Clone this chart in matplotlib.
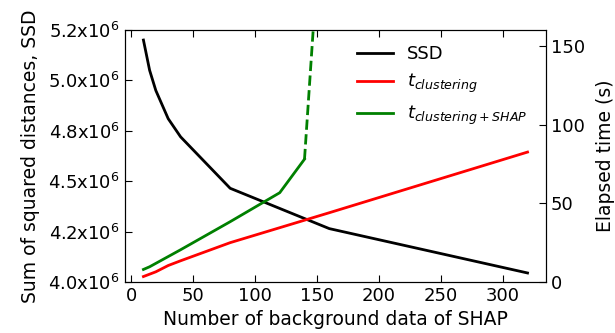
import matplotlib.pyplot as plt
from matplotlib.ticker import FuncFormatter, MultipleLocator

# SSD vs number of background samples
ssd_x = [10, 15, 20, 30, 40, 80, 160, 320]
ssd_y = [5.20e6, 5.05e6, 4.95e6, 4.81e6, 4.72e6, 4.465e6, 4.265e6, 4.045e6]

# elapsed time, clustering only
tc_x = [10, 20, 30, 40, 80, 160, 320]
tc_y = [3.5, 6.5, 10.5, 13.5, 25.0, 44.0, 82.5]

# elapsed time, clustering + SHAP (measured part)
ts_x = [10, 15, 40, 80, 120, 140]
ts_y = [8.0, 9.7, 20.5, 38.3, 56.7, 78.0]
# extrapolated part (dashed)
ts_ext_x = [140, 160]
ts_ext_y = [78.0, 312.0]


def main():
    plt.rcParams["font.size"] = 13
    plt.rcParams["xtick.direction"] = "in"
    plt.rcParams["ytick.direction"] = "in"

    fig, ax1 = plt.subplots(figsize=(6.15, 3.33), dpi=100)
    fig.subplots_adjust(left=0.203, right=0.888, top=0.91, bottom=0.153)
    ax2 = ax1.twinx()

    l1, = ax1.plot(ssd_x, ssd_y, color="k", lw=2, label="SSD")
    l2, = ax2.plot(tc_x, tc_y, color="r", lw=2, label="$t_{clustering}$")
    l3, = ax2.plot(ts_x, ts_y, color="g", lw=2, label="$t_{clustering+SHAP}$")
    ax2.plot(ts_ext_x, ts_ext_y, color="g", lw=2, ls="--")

    ax1.set_xlim(-5, 335)
    ax1.set_ylim(4.0e6, 5.25e6)
    ax1.yaxis.set_major_locator(MultipleLocator(0.25e6))
    ax1.yaxis.set_major_formatter(
        FuncFormatter(lambda v, p: "{:.1f}x10$^6$".format(v / 1e6)))
    ax2.set_ylim(0, 160)
    ax2.yaxis.set_major_locator(MultipleLocator(50))

    ax1.tick_params(axis="x", top=True, length=5)
    ax1.tick_params(axis="y", length=5)
    ax2.tick_params(axis="y", length=5)

    ax1.set_xlabel("Number of background data of SHAP", fontsize=13.5)
    ax1.set_ylabel("Sum of squared distances, SSD", fontsize=13.5, labelpad=6)
    ax2.set_ylabel("Elapsed time (s)", fontsize=13.5, labelpad=8)

    ax2.legend(handles=[l1, l2, l3], loc="upper right", frameon=False,
               fontsize=13, handlelength=2.0, bbox_to_anchor=(0.995, 1.005))

    fig.savefig("out.png", facecolor="white")


if __name__ == "__main__":
    main()
